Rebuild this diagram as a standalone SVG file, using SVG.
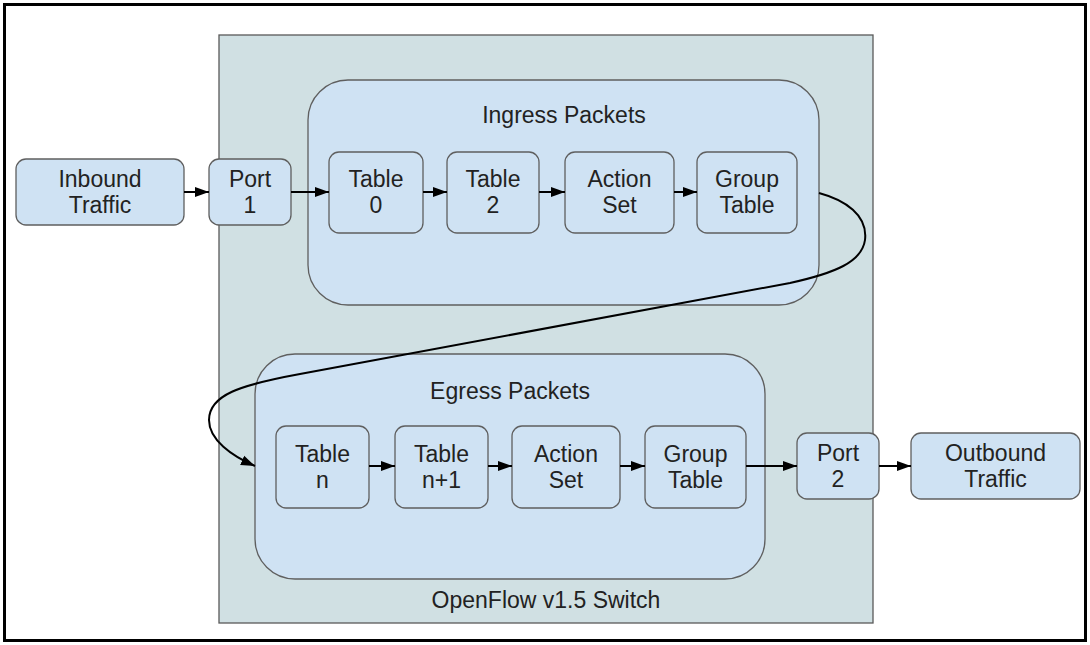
<svg xmlns="http://www.w3.org/2000/svg" width="1090" height="645" viewBox="0 0 1090 645">
  <style>
    .node { fill: #cfe2f3; stroke: #5f5f5f; stroke-width: 1.3; }
    .stage { fill: #cfe2f3; stroke: #5f5f5f; stroke-width: 1.3; }
    .switch { fill: #d0e0e3; stroke: #595959; stroke-width: 1.3; }
    text { font-family: "Liberation Sans", Arial, sans-serif; font-size: 23px; fill: #222; text-anchor: middle; }
    .conn { fill: none; stroke: #000; stroke-width: 2; }
  </style>
  <defs>
    <marker id="arrow" markerUnits="userSpaceOnUse" markerWidth="15" markerHeight="11" refX="14" refY="5.5" orient="auto">
      <path d="M0,0.5 L14,5.5 L0,10.5 Z" fill="#000"/>
    </marker>
  </defs>

  <rect x="0" y="0" width="1090" height="645" fill="#fff"/>
  <!-- frame -->
  <rect x="4.5" y="4.5" width="1081" height="636" fill="none" stroke="#000" stroke-width="3"/>

  <!-- switch container -->
  <g id="switch">
    <rect class="switch" x="219" y="35" width="654" height="588"/>
    <text x="546" y="608">OpenFlow v1.5 Switch</text>
  </g>

  <g id="ingress">
    <rect class="stage" x="308" y="80" width="511" height="225" rx="40" ry="40"/>
    <text x="564" y="123">Ingress Packets</text>
  </g>

  <g id="egress">
    <rect class="stage" x="255" y="354" width="510" height="225" rx="40" ry="40"/>
    <text x="510" y="399">Egress Packets</text>
  </g>

  <g id="inbound">
    <rect class="node" x="16" y="159" width="168" height="66" rx="10"/>
    <text x="100" y="187">Inbound</text>
    <text x="100" y="213">Traffic</text>
  </g>

  <g id="port1">
    <rect class="node" x="209" y="159" width="82" height="66" rx="10"/>
    <text x="250" y="187">Port</text>
    <text x="250" y="213">1</text>
  </g>

  <g id="table0">
    <rect class="node" x="329" y="152" width="94" height="81" rx="10"/>
    <text x="376" y="187">Table</text>
    <text x="376" y="213">0</text>
  </g>

  <g id="table2">
    <rect class="node" x="447" y="152" width="92" height="81" rx="10"/>
    <text x="493" y="187">Table</text>
    <text x="493" y="213">2</text>
  </g>

  <g id="ingress-action-set">
    <rect class="node" x="565" y="152" width="109" height="81" rx="10"/>
    <text x="619.5" y="187">Action</text>
    <text x="619.5" y="213">Set</text>
  </g>

  <g id="ingress-group-table">
    <rect class="node" x="697" y="152" width="100" height="81" rx="10"/>
    <text x="747" y="187">Group</text>
    <text x="747" y="213">Table</text>
  </g>

  <g id="tablen">
    <rect class="node" x="276" y="426" width="93" height="82" rx="10"/>
    <text x="322.5" y="462">Table</text>
    <text x="322.5" y="488">n</text>
  </g>

  <g id="tablen1">
    <rect class="node" x="395" y="426" width="93" height="82" rx="10"/>
    <text x="441.5" y="462">Table</text>
    <text x="441.5" y="488">n+1</text>
  </g>

  <g id="egress-action-set">
    <rect class="node" x="512" y="426" width="108" height="82" rx="10"/>
    <text x="566" y="462">Action</text>
    <text x="566" y="488">Set</text>
  </g>

  <g id="egress-group-table">
    <rect class="node" x="645" y="426" width="101" height="82" rx="10"/>
    <text x="695.5" y="462">Group</text>
    <text x="695.5" y="488">Table</text>
  </g>

  <g id="port2">
    <rect class="node" x="797" y="433" width="82" height="66" rx="10"/>
    <text x="838" y="461">Port</text>
    <text x="838" y="487">2</text>
  </g>

  <g id="outbound">
    <rect class="node" x="911" y="433" width="169" height="66" rx="10"/>
    <text x="995.5" y="461">Outbound</text>
    <text x="995.5" y="487">Traffic</text>
  </g>

  <g id="connectors">
    <line class="conn" x1="184" y1="192" x2="209" y2="192" marker-end="url(#arrow)"/>
    <line class="conn" x1="291" y1="192" x2="329" y2="192" marker-end="url(#arrow)"/>
    <line class="conn" x1="423" y1="192" x2="447" y2="192" marker-end="url(#arrow)"/>
    <line class="conn" x1="539" y1="192" x2="565" y2="192" marker-end="url(#arrow)"/>
    <line class="conn" x1="674" y1="192" x2="697" y2="192" marker-end="url(#arrow)"/>
    <!-- ingress to egress loop -->
    <path class="conn" d="M819,193 C845,200 868,215 865,240 C862,262 835,273 790,283 L300,374 C240,385 209,395 209,420 C209,440 232,456 255,466" marker-end="url(#arrow)"/>
    <line class="conn" x1="369" y1="466" x2="395" y2="466" marker-end="url(#arrow)"/>
    <line class="conn" x1="488" y1="466" x2="512" y2="466" marker-end="url(#arrow)"/>
    <line class="conn" x1="620" y1="466" x2="645" y2="466" marker-end="url(#arrow)"/>
    <line class="conn" x1="746" y1="466" x2="797" y2="466" marker-end="url(#arrow)"/>
    <line class="conn" x1="879" y1="466" x2="911" y2="466" marker-end="url(#arrow)"/>
  </g>
</svg>
